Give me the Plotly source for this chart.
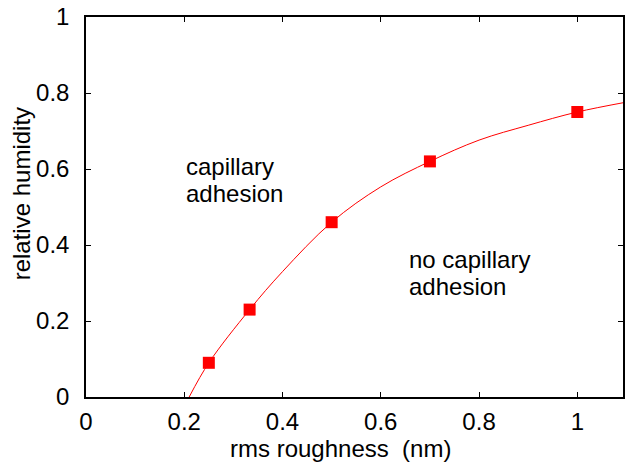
import plotly.graph_objects as go

# measured points
pts_x = [0.25, 0.333, 0.5, 0.7, 1.0]
pts_y = [0.09, 0.23, 0.46, 0.62, 0.75]

# fitted curve
curve_x = [0.21, 0.25, 0.333, 0.4, 0.5, 0.6, 0.7, 0.8, 0.9, 1.0, 1.1]
curve_y = [0.0, 0.09, 0.23, 0.33, 0.46, 0.553, 0.62, 0.676, 0.715, 0.75, 0.776]

xticks = [0, 0.2, 0.4, 0.6, 0.8, 1.0]
xtick_text = ["0", "0.2", "0.4", "0.6", "0.8", "1"]
yticks = [0, 0.2, 0.4, 0.6, 0.8, 1.0]
ytick_text = ["0", "0.2", "0.4", "0.6", "0.8", "1"]

red = "#ff0000"
font = "Liberation Sans, Arial, sans-serif"
fs = 24

fig = go.Figure()
fig.add_trace(go.Scatter(x=curve_x, y=curve_y, mode="lines",
                         line=dict(color=red, width=1, shape="spline"),
                         showlegend=False, hoverinfo="skip"))
fig.add_trace(go.Scatter(x=pts_x, y=pts_y, mode="markers",
                         marker=dict(symbol="square", size=12, color=red),
                         showlegend=False))

labels = [
    ("capillary", 0.2004, 0.606),
    ("adhesion", 0.2004, 0.535),
    ("no capillary", 0.654, 0.3616),
    ("adhesion", 0.654, 0.2905),
]
for txt, lx, ly in labels:
    fig.add_annotation(x=lx, y=ly, xref="x", yref="y", xanchor="left", yanchor="middle",
                       text=txt, showarrow=False, align="left",
                       font=dict(family=font, size=fs, color="black"))

# axis titles
fig.add_annotation(x=0.473, y=-0.1358, xref="paper", yref="paper", xanchor="center",
                   yanchor="middle", text="rms roughness \u00a0(nm)", showarrow=False,
                   font=dict(family=font, size=fs, color="black"))
fig.add_annotation(x=-0.1206, y=0.534, xref="paper", yref="paper", xanchor="center",
                   yanchor="middle", text="relative humidity", textangle=-90, showarrow=False,
                   font=dict(family=font, size=fs, color="black"))

axis_common = dict(showgrid=False, zeroline=False, showline=True, linecolor="black",
                   linewidth=1.5, mirror="ticks", ticks="inside", ticklen=5,
                   tickcolor="black", tickwidth=1,
                   tickfont=dict(family=font, size=fs, color="black"))

fig.update_layout(
    width=625, height=465,
    margin=dict(l=86, r=0, t=17, b=68),
    paper_bgcolor="white", plot_bgcolor="white",
    xaxis=dict(range=[0, 1.093], tickvals=xticks, ticktext=xtick_text,
               ticklabelstandoff=2, **axis_common),
    yaxis=dict(range=[0, 1], tickvals=yticks, ticktext=ytick_text,
               ticklabelstandoff=10, **axis_common),
)

fig.write_html("out.html")
